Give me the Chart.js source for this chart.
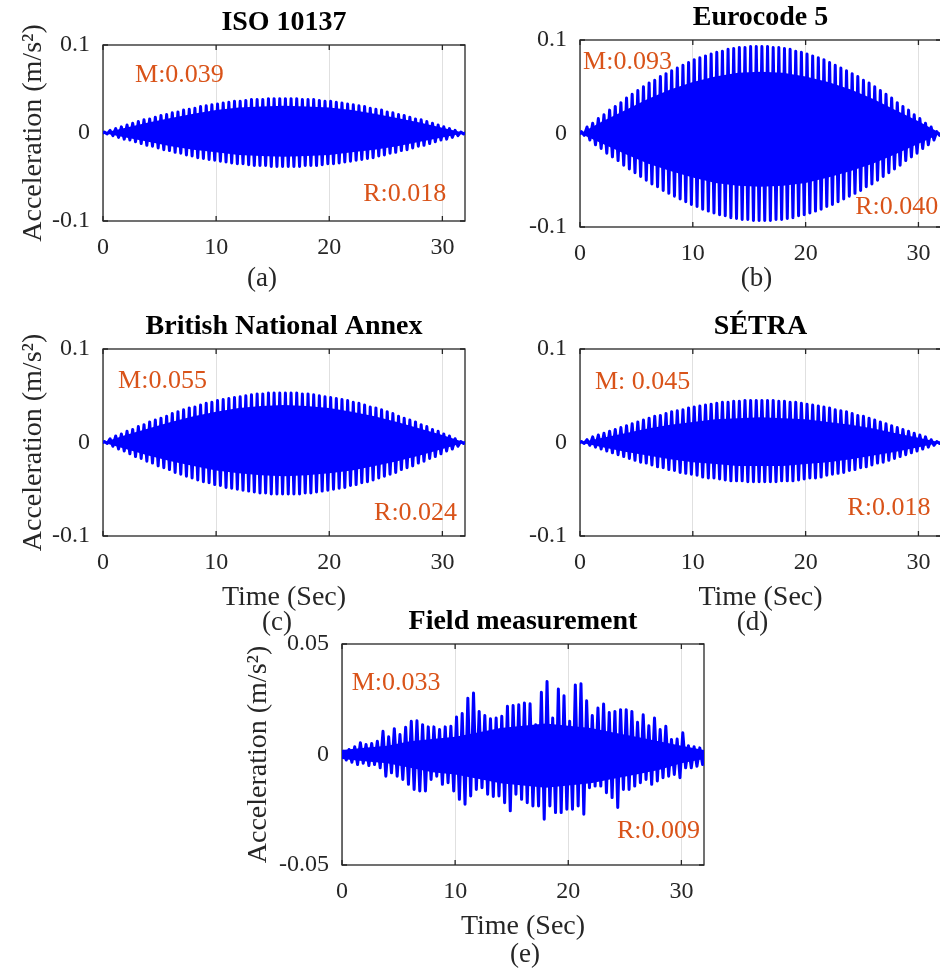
<!DOCTYPE html>
<html lang="en">
<head>
<meta charset="UTF-8">
<title>Acceleration responses</title>
<script src="https://cdn.jsdelivr.net/npm/chart.js"></script>
<style>
  html, body { margin: 0; padding: 0; background: #fff; overflow: hidden; }
  #sheet { position: relative; width: 940px; height: 969px; overflow: hidden; }
  .panel { position: absolute; }
</style>
</head>
<body>
<div id="sheet">
  <div class="panel" style="left:0;top:0"><canvas id="pa" width="470" height="300"></canvas></div>
  <div class="panel" style="left:470px;top:0"><canvas id="pb" width="476" height="300"></canvas></div>
  <div class="panel" style="left:0;top:300px"><canvas id="pc" width="470" height="340"></canvas></div>
  <div class="panel" style="left:470px;top:300px"><canvas id="pd" width="476" height="340"></canvas></div>
  <div class="panel" style="left:240px;top:600px"><canvas id="pe" width="470" height="369"></canvas></div>
</div>
<script>
const FONT = "'Liberation Serif', 'Times New Roman', serif";
const INK = '#262626';
const BLUE = '#0000ff';
const NOTE = '#d95319';

// spacing between successive turning points of a trace (s)
const dt = 0.25;
// sample times of the dense core band (s)
const coreTimes = [0, 2, 4, 6, 8, 10, 12, 14, 16, 18, 20, 22, 24, 26, 28, 30, 32];

// all accelerations below in 1e-3 m/s^2

// ISO 10137
const isoPeaks = [1, 3, 5, 7, 9, 11, 13, 15, 16, 18, 20, 21, 23, 24, 26, 27, 28, 30, 31, 32, 33, 34, 35, 36, 36, 37, 38, 38, 38, 39, 39, 39,
  39, 39, 39, 38, 38, 38, 37, 36, 36, 35, 34, 33, 32, 31, 30, 28, 27, 26, 24, 23, 21, 20, 18, 16, 15, 13, 11, 9, 7, 5, 3, 1];
const isoTroughs = [-1, -3, -5, -7, -8, -10, -12, -14, -15, -17, -19, -20, -22, -23, -25, -26, -28, -29, -30, -31, -32, -33, -34, -35, -35, -36, -37, -37, -37, -38, -38, -38,
  -38, -38, -38, -37, -37, -37, -36, -35, -35, -34, -33, -32, -31, -30, -29, -28, -26, -25, -23, -22, -20, -19, -17, -15, -14, -12, -10, -8, -7, -5, -3, -1];
const isoCoreTop = [0, 6, 12, 17, 22, 26, 29, 30, 31, 30, 29, 26, 22, 17, 12, 6, 0];
const isoCoreBottom = [0, -5, -10, -15, -19, -22, -25, -26, -27, -26, -25, -22, -19, -15, -10, -5, 0];

// Eurocode 5
const ec5Peaks = [2, 7, 11, 16, 20, 25, 29, 33, 38, 42, 46, 50, 54, 57, 61, 64, 67, 70, 73, 76, 79, 81, 83, 85, 87, 88, 90, 91, 92, 92, 93, 93,
  93, 93, 92, 92, 91, 90, 88, 87, 85, 83, 81, 79, 76, 73, 70, 67, 64, 61, 57, 54, 50, 46, 42, 38, 33, 29, 25, 20, 16, 11, 7, 2];
const ec5Troughs = [-2, -7, -12, -16, -21, -25, -29, -34, -38, -42, -46, -50, -54, -57, -61, -64, -67, -70, -73, -76, -78, -81, -83, -85, -87, -88, -90, -91, -92, -92, -93, -93,
  -93, -93, -92, -92, -91, -90, -88, -87, -85, -83, -81, -78, -76, -73, -70, -67, -64, -61, -57, -54, -50, -46, -42, -38, -34, -29, -25, -21, -16, -12, -7, -2];
const ec5CoreTop = [0, 13, 25, 37, 47, 55, 61, 65, 66, 65, 61, 55, 47, 37, 25, 13, 0];
const ec5CoreBottom = [0, -11, -22, -32, -40, -47, -53, -56, -57, -56, -53, -47, -40, -32, -22, -11, 0];

// British National Annex
const bnaPeaks = [1, 4, 7, 9, 12, 14, 17, 19, 22, 24, 26, 28, 31, 33, 35, 37, 38, 40, 42, 43, 45, 46, 47, 48, 49, 50, 51, 52, 52, 53, 53, 53,
  53, 53, 53, 52, 52, 51, 50, 49, 48, 47, 46, 45, 43, 42, 40, 38, 37, 35, 33, 31, 28, 26, 24, 22, 19, 17, 14, 12, 9, 7, 4, 1];
const bnaTroughs = [-1, -4, -7, -9, -12, -15, -17, -20, -22, -25, -27, -29, -32, -34, -36, -38, -40, -42, -43, -45, -46, -48, -49, -50, -51, -52, -53, -54, -54, -55, -55, -55,
  -55, -55, -55, -54, -54, -53, -52, -51, -50, -49, -48, -46, -45, -43, -42, -40, -38, -36, -34, -32, -29, -27, -25, -22, -20, -17, -15, -12, -9, -7, -4, -1];
const bnaCoreTop = [0, 8, 15, 22, 28, 33, 37, 39, 40, 39, 37, 33, 28, 22, 15, 8, 0];
const bnaCoreBottom = [0, -7, -14, -20, -25, -30, -33, -35, -36, -35, -33, -30, -25, -20, -14, -7, 0];

// SETRA
const setraPeaks = [1, 3, 6, 8, 10, 12, 14, 16, 18, 20, 22, 24, 26, 28, 29, 31, 33, 34, 35, 37, 38, 39, 40, 41, 42, 43, 43, 44, 44, 45, 45, 45,
  45, 45, 45, 44, 44, 43, 43, 42, 41, 40, 39, 38, 37, 35, 34, 33, 31, 29, 28, 26, 24, 22, 20, 18, 16, 14, 12, 10, 8, 6, 3, 1];
const setraTroughs = [-1, -3, -5, -7, -9, -11, -13, -15, -17, -19, -21, -22, -24, -26, -27, -29, -30, -32, -33, -34, -35, -37, -38, -38, -39, -40, -41, -41, -41, -42, -42, -42,
  -42, -42, -42, -41, -41, -41, -40, -39, -38, -38, -37, -35, -34, -33, -32, -30, -29, -27, -26, -24, -22, -21, -19, -17, -15, -13, -11, -9, -7, -5, -3, -1];
const setraCoreTop = [0, 5, 10, 15, 19, 22, 25, 26, 27, 26, 25, 22, 19, 15, 10, 5, 0];
const setraCoreBottom = [0, -5, -10, -14, -18, -21, -23, -25, -25, -25, -23, -21, -18, -14, -10, -5, 0];

// field measurement
const fieldPeaks = [1.5, 2.3, 3.5, 5.3, 4.5, 5, 6, 10.5, 8, 11.7, 9, 12.3, 15, 15.3, 13.5, 12.5,
  12.5, 11.3, 12.5, 12.8, 17, 18.5, 25.5, 27.8, 19.5, 17.6, 16.2, 16.5, 17.3, 21.8, 22.2, 22.5,
  23.3, 23, 13.5, 28.2, 33, 16.5, 29.6, 26.6, 15, 31.5, 32, 24.3, 17.6, 21, 22.8, 19,
  19.5, 20.3, 20.3, 19.5, 14.6, 18, 13, 16.5, 11.3, 12.8, 6.8, 7, 9.8, 4, 3.5, 3];
const fieldTroughs = [-2.5, -3.5, -4.5, -4, -5, -4.5, -6, -9.8, -8.3, -9.8, -11.3, -13.5, -15.8, -16.5, -16.5, -11.3,
  -9.8, -13.5, -12.8, -16.5, -20.3, -22.5, -18.8, -15.8, -15, -18, -19, -18.8, -21.8, -25.5, -18, -20.3,
  -21.8, -23.3, -23.3, -29.3, -23.3, -26.3, -26.3, -24.8, -24.8, -23.3, -27, -15, -14.3, -14.3, -17.3, -19.5,
  -24, -15.8, -15.8, -14.3, -12.8, -11.3, -13.5, -12, -10.5, -9.8, -9, -10.5, -6, -6, -5.3, -4.5];
const fieldCoreTop = [2, 3, 4, 6, 7, 8, 10, 12, 13, 14, 13, 12, 10, 8, 6, 4, 2];
const fieldCoreBottom = [-2, -3, -4, -6, -8, -9, -11, -13, -14, -15, -14, -13, -11, -9, -7, -4, -2];

// one peak and one trough per half second, starting and ending at rest
function trace(peaks, troughs) {
  const pts = [{ x: 0, y: 0 }];
  peaks.forEach((p, i) => {
    pts.push({ x: dt * (2 * i + 0.5), y: p / 1000 });
    pts.push({ x: dt * (2 * i + 1.5), y: troughs[i] / 1000 });
  });
  pts.push({ x: 32, y: 0 });
  return pts;
}

function band(values) {
  return values.map((v, i) => ({ x: coreTimes[i], y: v / 1000 }));
}

// box, inner tick marks, title, caption and the M/R notes
const frame = {
  id: 'frame',
  beforeDatasetsDraw(chart) {
    const { ctx, chartArea: a, scales: { x, y } } = chart;
    ctx.save();
    ctx.strokeStyle = INK;
    ctx.lineWidth = 1.3;
    ctx.strokeRect(a.left, a.top, a.right - a.left, a.bottom - a.top);
    ctx.beginPath();
    x.ticks.forEach(t => {
      const px = x.getPixelForValue(t.value);
      ctx.moveTo(px, a.bottom); ctx.lineTo(px, a.bottom - 5);
      ctx.moveTo(px, a.top); ctx.lineTo(px, a.top + 5);
    });
    y.ticks.forEach(t => {
      const py = y.getPixelForValue(t.value);
      ctx.moveTo(a.left, py); ctx.lineTo(a.left + 5, py);
      ctx.moveTo(a.right, py); ctx.lineTo(a.right - 5, py);
    });
    ctx.stroke();
    ctx.restore();
  },
  afterDraw(chart, args, o) {
    const { ctx, chartArea: a, scales: { x, y } } = chart;
    const cx = (a.left + a.right) / 2;
    ctx.save();
    ctx.textAlign = 'center';
    ctx.textBaseline = 'middle';
    ctx.fillStyle = '#000';
    ctx.font = 'bold 28px ' + FONT;
    ctx.fillText(o.title, cx, a.top - 22.5);
    ctx.fillStyle = INK;
    ctx.font = '27px ' + FONT;
    ctx.fillText(o.caption, cx + o.captionDx, a.bottom + o.captionDy);
    ctx.textAlign = 'left';
    ctx.textBaseline = 'alphabetic';
    ctx.fillStyle = NOTE;
    ctx.font = '26px ' + FONT;
    o.notes.forEach(n => ctx.fillText(n.text, x.getPixelForValue(n.at[0]), y.getPixelForValue(n.at[1])));
    ctx.restore();
  }
};

const panels = [
  { id: 'pa', title: 'ISO 10137', caption: '(a)', captionDx: -22, captionDy: 58,
    peaks: isoPeaks, troughs: isoTroughs, coreTop: isoCoreTop, coreBottom: isoCoreBottom,
    yMax: 0.1, axisW: 103, axisH: 79, padTop: 45, padRight: 5, yTitle: true, yTitlePad: 16.7, xTitle: false,
    notes: [{ text: 'M:0.039', at: [2.83, 0.0576] }, { text: 'R:0.018', at: [23.0, -0.0776] }] },
  { id: 'pb', title: 'Eurocode 5', caption: '(b)', captionDx: -4, captionDy: 52,
    peaks: ec5Peaks, troughs: ec5Troughs, coreTop: ec5CoreTop, coreBottom: ec5CoreBottom,
    yMax: 0.1, axisW: 110, axisH: 73, padTop: 40, padRight: 5, yTitle: false, yTitlePad: 0, xTitle: false,
    notes: [{ text: 'M:0.093', at: [0.27, 0.0687] }, { text: 'R:0.040', at: [24.4, -0.0864] }] },
  { id: 'pc', title: 'British National Annex', caption: '(c)', captionDx: -7, captionDy: 87,
    peaks: bnaPeaks, troughs: bnaTroughs, coreTop: bnaCoreTop, coreBottom: bnaCoreBottom,
    yMax: 0.1, axisW: 103, axisH: 104, padTop: 49, padRight: 5, yTitle: true, yTitlePad: 16.7, xTitle: true,
    notes: [{ text: 'M:0.055', at: [1.33, 0.058] }, { text: 'R:0.024', at: [23.96, -0.0832] }] },
  { id: 'pd', title: 'SÉTRA', caption: '(d)', captionDx: -8, captionDy: 87,
    peaks: setraPeaks, troughs: setraTroughs, coreTop: setraCoreTop, coreBottom: setraCoreBottom,
    yMax: 0.1, axisW: 110, axisH: 104, padTop: 49, padRight: 5, yTitle: false, yTitlePad: 0, xTitle: true,
    notes: [{ text: 'M: 0.045', at: [1.33, 0.0574] }, { text: 'R:0.018', at: [23.7, -0.0779] }] },
  { id: 'pe', title: 'Field measurement', caption: '(e)', captionDx: 2, captionDy: 90,
    peaks: fieldPeaks, troughs: fieldTroughs, coreTop: fieldCoreTop, coreBottom: fieldCoreBottom,
    yMax: 0.05, axisW: 102, axisH: 104, padTop: 44, padRight: 6, yTitle: true, yTitlePad: 2, xTitle: true,
    notes: [{ text: 'M:0.033', at: [0.86, 0.029] }, { text: 'R:0.009', at: [24.3, -0.0379] }] }
];

panels.forEach(p => {
  new Chart(document.getElementById(p.id), {
    type: 'line',
    data: {
      datasets: [
        { data: band(p.coreTop), fill: '+1', backgroundColor: BLUE, borderColor: 'rgba(0,0,0,0)', borderWidth: 0, pointRadius: 0 },
        { data: band(p.coreBottom), fill: false, borderColor: 'rgba(0,0,0,0)', borderWidth: 0, pointRadius: 0 },
        { data: trace(p.peaks, p.troughs), fill: false, borderColor: BLUE, borderWidth: 3, pointRadius: 0,
          tension: 0, borderJoinStyle: 'round', borderCapStyle: 'round' }
      ]
    },
    options: {
      responsive: false,
      animation: false,
      events: [],
      layout: { padding: { top: p.padTop, right: p.padRight, left: 0, bottom: 0 } },
      plugins: {
        legend: { display: false },
        tooltip: { enabled: false },
        frame: { title: p.title, caption: p.caption, captionDx: p.captionDx, captionDy: p.captionDy, notes: p.notes }
      },
      scales: {
        x: {
          type: 'linear', min: 0, max: 32,
          ticks: { stepSize: 10, includeBounds: false, maxRotation: 0, autoSkip: false, padding: 12,
                   color: INK, font: { family: FONT, size: 24 } },
          grid: { color: '#e0e0e0', lineWidth: 1, drawTicks: false },
          border: { display: false },
          title: { display: p.xTitle, text: 'Time (Sec)', color: INK, font: { family: FONT, size: 28 },
                   padding: { top: 0, bottom: 26 } },
          afterFit: s => { s.height = p.axisH; }
        },
        y: {
          type: 'linear', min: -p.yMax, max: p.yMax,
          ticks: { stepSize: p.yMax, padding: 13, color: INK, font: { family: FONT, size: 24 } },
          grid: { display: false, drawTicks: false },
          border: { display: false },
          title: { display: p.yTitle, text: 'Acceleration (m/s²)', color: INK, font: { family: FONT, size: 28 },
                   padding: { top: p.yTitlePad, bottom: 0 } },
          afterFit: s => { s.width = p.axisW; }
        }
      }
    },
    plugins: [frame]
  });
});
</script>
</body>
</html>
